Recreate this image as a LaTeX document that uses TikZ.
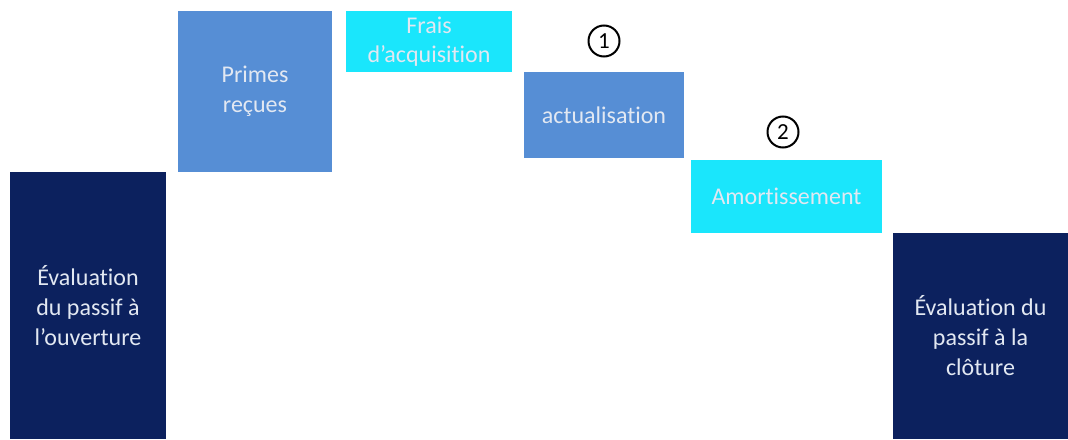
\documentclass[tikz,border=0pt]{standalone}
\usepackage{fontspec}
\setmainfont{Carlito}[Ligatures=NoCommon]
\definecolor{navy}{RGB}{12,33,94}
\definecolor{midblue}{RGB}{86,142,213}
\definecolor{cyanbox}{RGB}{26,230,252}
\definecolor{txt}{RGB}{226,232,242}
\tikzset{
  bar/.style={draw=none, inner sep=0pt, text=txt, align=center,
    font=\fontsize{24}{30}\selectfont},
  numc/.style={circle, draw=black, line width=2pt, minimum size=31pt, inner sep=0pt,
    font=\fontsize{23}{26}\selectfont}
}
\begin{document}
\begin{tikzpicture}[x=1pt,y=-1pt]
\useasboundingbox (0,0) rectangle (1068,439);
\fill[white] (0,0) rectangle (1068,439);
\node[bar, fill=navy, minimum width=156pt, minimum height=267pt] (open) at (88,305.5)
  {Évaluation\\du passif à\\l’ouverture};
\node[bar, fill=midblue, minimum width=154pt, minimum height=161pt] (primes) at (255,91.5)
  {Primes\\reçues};
\node[bar, fill=cyanbox, minimum width=166pt, minimum height=61pt, font=\fontsize{24}{29}\selectfont] (frais) at (429,41.5)
  {Frais\\d’acquisition};
\node[bar, fill=midblue, minimum width=160pt, minimum height=86pt] (actu) at (604,115)
  {actualisation};
\node[bar, fill=cyanbox, minimum width=191pt, minimum height=73pt] (amort) at (786.5,196.5)
  {Amortissement};
\node[bar, fill=navy, minimum width=175pt, minimum height=206pt] (close) at (980.5,336)
  {Évaluation du\\passif à la\\clôture};
\node[numc] (n1) at (604,41) {1};
\node[numc] (n2) at (783,132) {2};
\end{tikzpicture}
\end{document}
